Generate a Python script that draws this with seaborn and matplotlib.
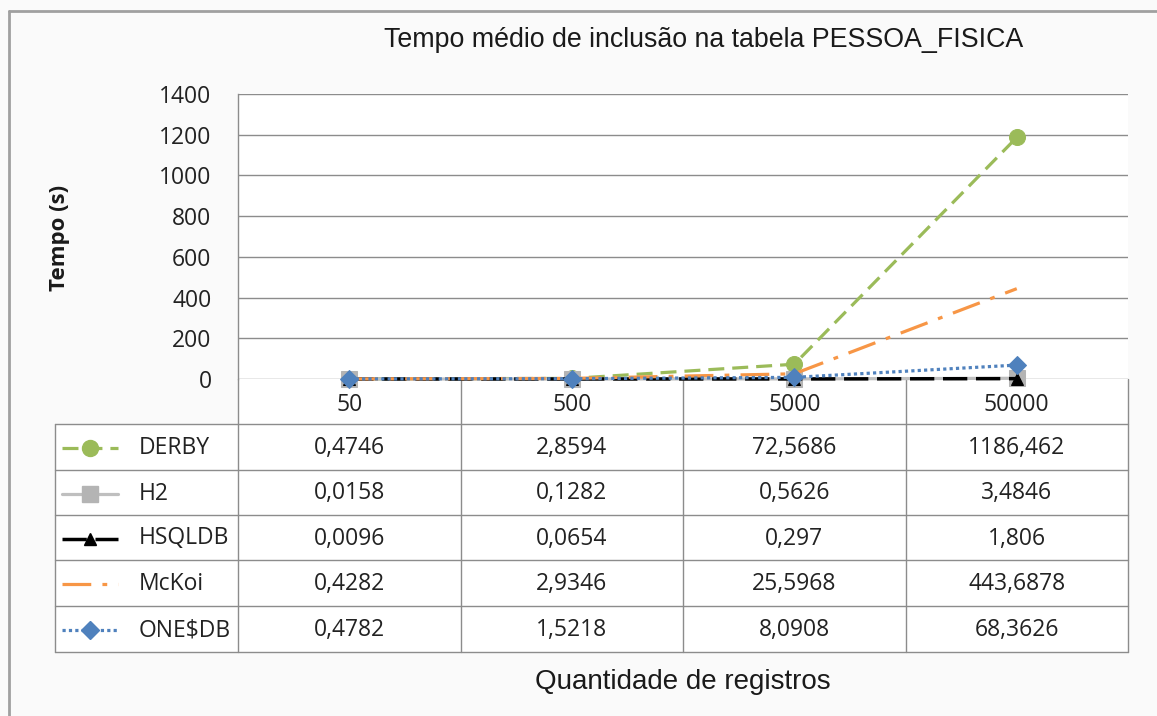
import numpy as np
import pandas as pd
import matplotlib
matplotlib.use('Agg')
import matplotlib.pyplot as plt
from matplotlib.lines import Line2D
import seaborn as sns

categories = ['50', '500', '5000', '50000']
derby = [0.4746, 2.8594, 72.5686, 1186.462]
h2 = [0.0158, 0.1282, 0.5626, 3.4846]
hsqldb = [0.0096, 0.0654, 0.297, 1.806]
mckoi = [0.4282, 2.9346, 25.5968, 443.6878]
onesdb = [0.4782, 1.5218, 8.0908, 68.3626]
series_names = ['DERBY', 'H2', 'HSQLDB', 'McKoi', 'ONE$DB']
yticks = [0, 200, 400, 600, 800, 1000, 1200, 1400]

series_values = [derby, h2, hsqldb, mckoi, onesdb]

# styles
styles = {
    'DERBY': dict(color='#9BBB59', linestyle=(0, (5, 2.5)), marker='o', markersize=11.5,
                  mfc='#9BBB59', mec='#9BBB59', lw=2.3),
    'H2': dict(color='#BFBFBF', linestyle='-', marker='s', markersize=11,
               mfc='#B4B4B4', mec='#B4B4B4', lw=2.3),
    'HSQLDB': dict(color='black', linestyle=(0, (7, 2.5)), marker='^', markersize=8,
                   mfc='black', mec='black', lw=2.5),
    'McKoi': dict(color='#F79646', linestyle=(0, (9, 3.5, 1.5, 3.5)), marker='',
                  lw=2.3),
    'ONE$DB': dict(color='#4F81BD', linestyle=(0, (1, 1)), marker='D', markersize=9,
                   mfc='#4F81BD', mec='#4F81BD', lw=2.3),
}

sns.set_style('white')
W, H = 1157, 716
fig = plt.figure(figsize=(W / 100, H / 100), dpi=100)
fig.patch.set_facecolor('#FAFAFA')

def fx(px):
    return px / W

def fy(py):
    return 1 - py / H

# overlay axes in pixel coordinates (frame + data table)
ov = fig.add_axes([0, 0, 1, 1], zorder=0)
ov.set_xlim(0, W)
ov.set_ylim(H, 0)
ov.axis('off')
ov.patch.set_alpha(0)

grid_c = '#8C8C8C'
txt_c = '#222222'
# outer border
ov.plot([9, W], [11, 11], color='#A0A0A0', lw=2)
ov.plot([9, 9], [11, H], color='#A0A0A0', lw=2)

# table
left_tab, x0, x_end = 55, 238, 1128
col_w = (x_end - x0) / 4
col_edges = [x0 + i * col_w for i in range(5)]
row_edges = [379, 424, 470, 515, 560, 606, 652]
ov.add_patch(plt.Rectangle((left_tab, 424), x_end - left_tab, 652 - 424,
                           facecolor='white', edgecolor='none'))
ov.add_patch(plt.Rectangle((x0, 379), x_end - x0, 45,
                           facecolor='white', edgecolor='none'))
for y in row_edges[1:]:
    ov.plot([left_tab, x_end], [y, y], color=grid_c, lw=1)
for x in col_edges:
    ov.plot([x, x], [379, 652], color=grid_c, lw=1)
ov.plot([left_tab, left_tab], [424, 652], color=grid_c, lw=1)

tab_font = dict(family='Open Sans', fontsize=16.5, color=txt_c)
for r, (name, vals) in enumerate(zip(series_names, series_values)):
    yc = (row_edges[r + 1] + row_edges[r + 2]) / 2 + 1
    st = styles[name]
    ov.add_line(Line2D([62, 118], [yc, yc], color=st['color'], linestyle=st['linestyle'],
                       lw=st['lw'], zorder=3))
    if st['marker']:
        ov.add_line(Line2D([90], [yc], marker=st['marker'], markersize=st['markersize'],
                           mfc=st['mfc'], mec=st['mec'], linestyle='none', zorder=4))
    ov.text(139, yc, name.replace('$', r'\$'), ha='left', va='center', **tab_font)
    for c, v in enumerate(vals):
        xc = col_edges[c] + col_w / 2
        ov.text(xc, yc, str(v).replace('.', ','), ha='center', va='center', **tab_font)

# main plot axes
ax = fig.add_axes([fx(x0), fy(379), fx(x_end - x0), (379 - 94) / H], zorder=2)
ax.set_facecolor('white')
xpos = np.arange(len(categories))
for name, vals in zip(series_names, series_values):
    st = dict(styles[name])
    sns.lineplot(x=xpos, y=vals, ax=ax, clip_on=False, zorder=3, **st)

ax.set_xlim(-0.5, 3.5)
ax.set_ylim(0, 1400)
ax.set_yticks(yticks)
ax.set_yticklabels([str(t) for t in yticks], family='Open Sans', fontsize=16.5, color=txt_c)
ax.set_xticks(xpos)
ax.set_xticklabels(categories, family='Open Sans', fontsize=16.5, color=txt_c)
ax.tick_params(axis='y', length=0, pad=19)
ax.tick_params(axis='x', length=0, pad=10)
ax.grid(axis='y', color=grid_c, lw=1)
ax.set_axisbelow(True)
for s in ['top', 'right', 'bottom']:
    ax.spines[s].set_visible(False)
ax.spines['left'].set_color(grid_c)
ax.spines['left'].set_linewidth(1)
ax.set_xlabel('')
ax.set_ylabel('')

# titles
fig.text(fx(704), fy(40), 'Tempo médio de inclusão na tabela PESSOA_FISICA',
         ha='center', va='center', family='Liberation Sans', fontsize=19.3, color='#1A1A1A')
fig.text(fx(683), fy(682), 'Quantidade de registros', ha='center', va='center',
         family='Liberation Sans', fontsize=20, color='#1A1A1A')
fig.text(fx(60), fy(238), 'Tempo (s)', ha='center', va='center', rotation=90,
         family='Open Sans', fontweight='bold', fontsize=16, color='#1A1A1A')

fig.savefig('out.png', dpi=100, facecolor=fig.get_facecolor())
